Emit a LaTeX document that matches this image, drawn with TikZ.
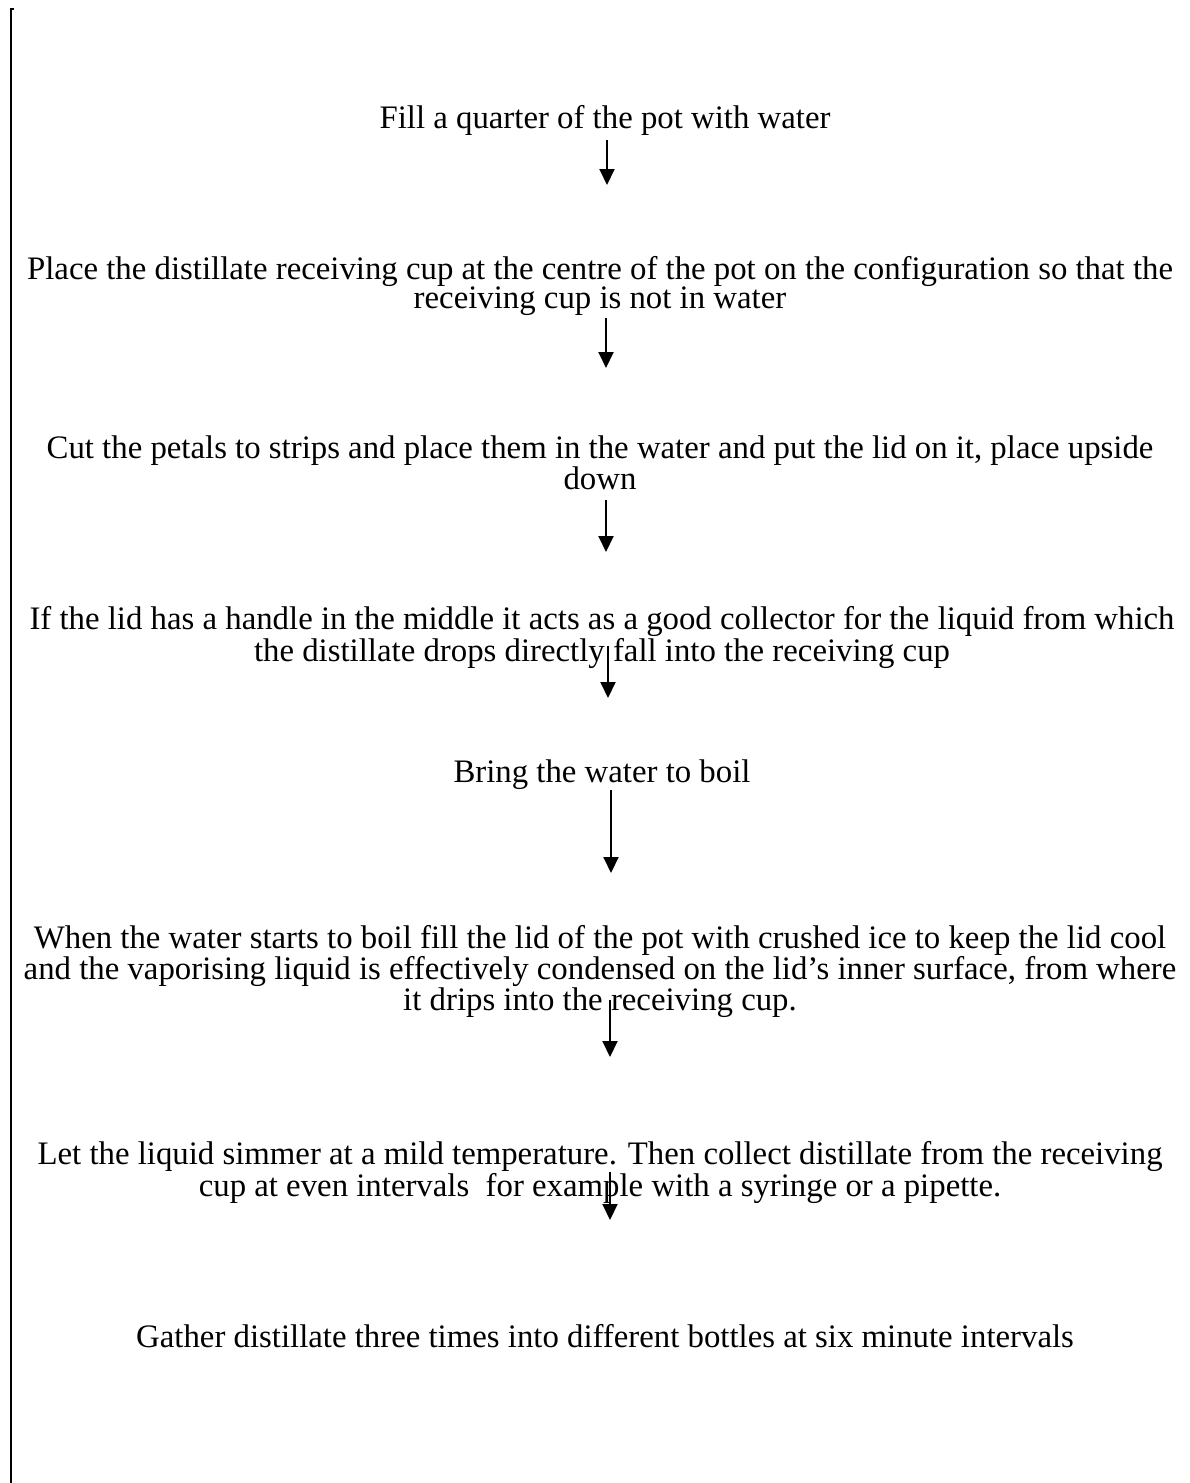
\documentclass[tikz,border=0pt]{standalone}
\usepackage{fontspec}
\setmainfont{Liberation Serif}
\usetikzlibrary{arrows.meta}

\begin{document}
\begin{tikzpicture}[
    x=1pt, y=-1pt,
    every node/.style={
        align=center,
        anchor=base,
        inner sep=0pt,
        font=\fontsize{32.8}{29}\selectfont
    },
    arrow/.style={-{Triangle[length=16pt,width=15pt]}, line width=2pt}
]
    \useasboundingbox (0,0) rectangle (1190,1483);

    % margin line on the left
    \draw[line width=2pt] (14,9) -- (11,9) -- (11,1483);

    % steps (anchored on the baseline of their last line)
    \node (fill) at (605,128) {Fill a quarter of the pot with water};
    \node (place) at (600,308) {Place the distillate receiving cup at the centre of the pot on the configuration so that the\\receiving cup is not in water};
    \node (cut) at (600,489) {Cut the petals to strips and place them in the water and put the lid on it, place upside\\down};
    \node (lid) at (602,661) {If the lid has a handle in the middle it acts as a good collector for the liquid from which\\the distillate drops directly fall into the receiving cup};
    \node (boil) at (602,782) {Bring the water to boil};
    \node (ice) at (600,1010) {When the water starts to boil fill the lid of the pot with crushed ice to keep the lid cool\\and the vaporising liquid is effectively condensed on the lid’s inner surface, from where\\it drips into the receiving cup.};
    \node (simmer) at (600,1196) {Let the liquid simmer at a mild temperature. Then collect distillate from the receiving\\cup at even intervals\ \ for example with a syringe or a pipette.};
    \node (gather) at (605,1347) {Gather distillate three times into different bottles at six minute intervals};

    \coordinate (a1) at (607,140);  \coordinate (b1) at (607,185);
    \coordinate (a2) at (606,318);  \coordinate (b2) at (606,368);
    \coordinate (a3) at (606,500);  \coordinate (b3) at (606,552);
    \coordinate (a4) at (608,646);  \coordinate (b4) at (608,698);
    \coordinate (a5) at (611,790);  \coordinate (b5) at (611,873);
    \coordinate (a6) at (610,1000); \coordinate (b6) at (610,1057);
    \coordinate (a7) at (610,1172); \coordinate (b7) at (610,1220);

    \draw[arrow] (a1) -- (b1);
    \draw[arrow] (a2) -- (b2);
    \draw[arrow] (a3) -- (b3);
    \draw[arrow] (a4) -- (b4);
    \draw[arrow] (a5) -- (b5);
    \draw[arrow] (a6) -- (b6);
    \draw[arrow] (a7) -- (b7);

\end{tikzpicture}
\end{document}
